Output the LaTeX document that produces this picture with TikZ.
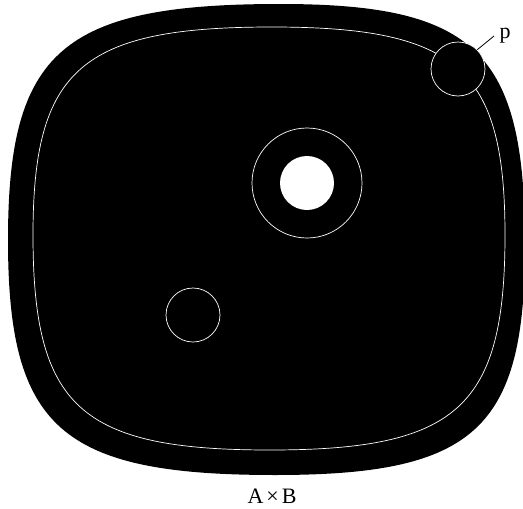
\documentclass[tikz,border=0pt]{standalone}
\usepackage{fontspec}
\setmainfont{Liberation Serif}
\begin{document}
\begin{tikzpicture}[x=1pt,y=-1pt,
  whiteline/.style={draw=white,line width=0.7pt},
  lbl/.style={font=\fontsize{22}{26}\selectfont,inner sep=0pt}]
\useasboundingbox (0,0) rectangle (523,509);
% outer blob
\fill[black] (280,4) .. controls (476,4) and (525,52) .. (525,245)
  .. controls (525,429) and (475,475) .. (275,475)
  .. controls (61,475) and (8,428) .. (8,240)
  .. controls (8,51) and (62,4) .. cycle;
% inner white curve
\draw[whiteline] (272,27) .. controls (458,27) and (505,69) .. (505,235)
  .. controls (505,407) and (458,450) .. (270,450)
  .. controls (80,450) and (33,407) .. (33,235)
  .. controls (33,69) and (81,27) .. cycle;
% disks
\node[circle,minimum size=54pt,inner sep=0pt,fill=black,whiteline] (pc) at (458,69) {};
\node[circle,minimum size=110pt,inner sep=0pt,whiteline] (ring) at (307,183) {};
\node[circle,minimum size=54pt,inner sep=0pt,fill=white] (hole) at (307,183) {};
\node[circle,minimum size=54pt,inner sep=0pt,whiteline] (small) at (193,315) {};
% labels
\node[lbl,anchor=base] (p) at (505,38) {p};
\coordinate (pe) at (494,36);
\draw[black,line width=0.8pt] (pc.north east) -- (pe);
\node[lbl,anchor=base] (ab) at (272,503) {A\kern3pt×\kern3pt B};
\end{tikzpicture}
\end{document}
